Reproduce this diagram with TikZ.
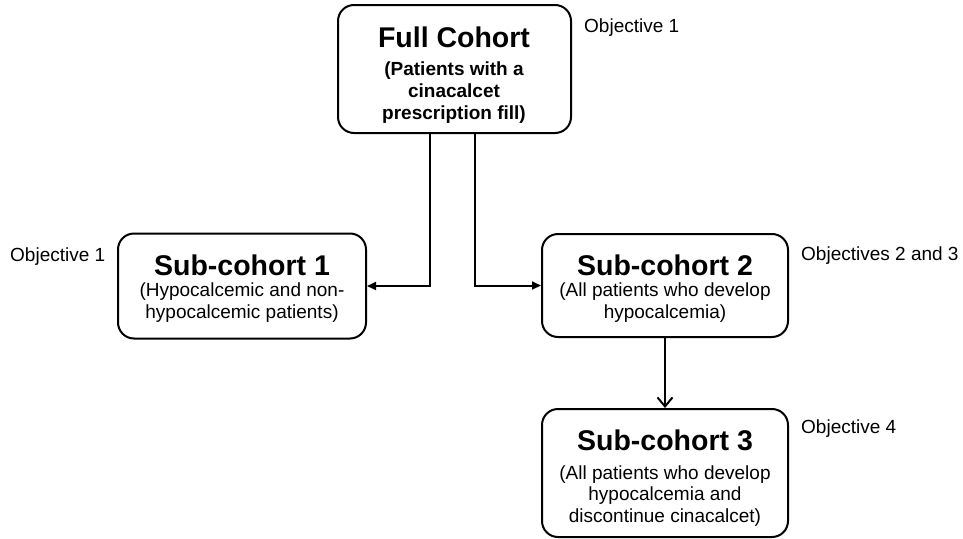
\documentclass[tikz,border=0pt]{standalone}
\usepackage{fontspec}
\setmainfont{Liberation Sans}
\usetikzlibrary{arrows.meta}
\tikzset{
  cbox/.style={draw, line width=2pt, rounded corners=16pt, inner sep=0pt},
  ttl/.style={anchor=base, inner sep=0pt, font=\fontsize{28.5}{30}\selectfont\bfseries},
  sub/.style={anchor=base, inner sep=0pt, align=center, font=\fontsize{19}{21.5}\selectfont},
  obj/.style={anchor=base west, inner sep=0pt, font=\fontsize{19}{22}\selectfont},
  conn/.style={line width=2pt},
  tri/.style={conn, -{Triangle[length=9pt,width=8pt]}},
  vee/.style={conn, -{Straight Barb[length=9pt,width=15pt,line width=2pt]}},
}
\begin{document}
\begin{tikzpicture}[x=1pt,y=-1pt]
\useasboundingbox (0,0) rectangle (963,538);
% boxes
\node[cbox, minimum width=233pt, minimum height=128pt] (fc) at (454.5,69) {};
\node[cbox, minimum width=248pt, minimum height=105pt] (s1) at (242,286) {};
\node[cbox, minimum width=246pt, minimum height=103pt] (s2) at (665,285.5) {};
\node[cbox, minimum width=246pt, minimum height=128pt] (s3) at (665,473) {};
% texts (multi-line nodes: base = baseline of last line)
\node[ttl] (fct) at (454,47) {Full Cohort};
\node[sub, font=\fontsize{19}{22}\selectfont\bfseries] (fcs) at (454,119)
  {(Patients with a\\ cinacalcet\\ prescription fill)};
\node[ttl] (s1t) at (242,275) {Sub-cohort 1};
\node[sub] (s1s) at (242,318) {(Hypocalcemic and non-\\ hypocalcemic patients)};
\node[ttl] (s2t) at (665,275) {Sub-cohort 2};
\node[sub] (s2s) at (665,318) {(All patients who develop\\ hypocalcemia)};
\node[ttl] (s3t) at (665,450) {Sub-cohort 3};
\node[sub] (s3s) at (665,522) {(All patients who develop\\ hypocalcemia and\\ discontinue cinacalcet)};
% objectives
\node[obj] (o1) at (584,32) {Objective 1};
\node[obj] (o2) at (10,261) {Objective 1};
\node[obj] (o3) at (801,260) {Objectives 2 and 3};
\node[obj] (o4) at (801,433) {Objective 4};
% connectors
\draw[tri] ([xshift=-24.5pt]fc.south) |- (s1.east);
\draw[tri] ([xshift=20.5pt]fc.south) |- (s2.west);
\draw[vee] (s2.south) -- (s3.north);
\end{tikzpicture}
\end{document}
